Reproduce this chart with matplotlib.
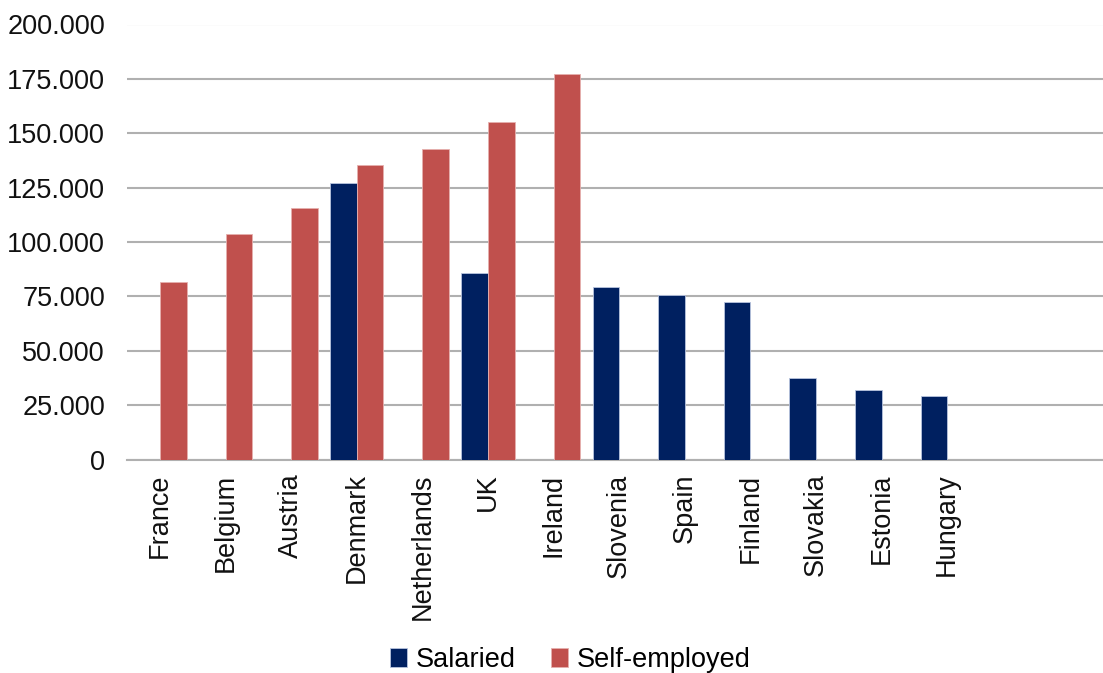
import matplotlib
matplotlib.use("Agg")
import matplotlib.pyplot as plt
import numpy as np
from matplotlib.ticker import FuncFormatter, MultipleLocator

categories = ["France", "Belgium", "Austria", "Denmark", "Netherlands", "UK", "Ireland",
              "Slovenia", "Spain", "Finland", "Slovakia", "Estonia", "Hungary"]
salaried = [np.nan, np.nan, np.nan, 127000, np.nan, 85600, np.nan,
            79200, 75800, 72500, 37300, 32000, 29000]
self_employed = [81500, 103800, 115800, 135300, 142900, 155400, 177200,
                 np.nan, np.nan, np.nan, np.nan, np.nan, np.nan]
series_names = ["Salaried", "Self-employed"]

plt.rcParams['font.family'] = ['Liberation Sans', 'DejaVu Sans']

fig = plt.figure(figsize=(11.03, 6.73), dpi=100)
ax = fig.add_axes([127.2 / 1103, 1 - 459.5 / 673, 1 - 127.2 / 1103, (459.5 - 24.5) / 673])

x = np.arange(len(categories))
w = 0.404
navy = "#002060"
red = "#C0504D"
ax.bar(x - w / 2, salaried, width=w, color=navy, edgecolor="#B8C4DE", linewidth=0.6,
       label=series_names[0], zorder=3)
ax.bar(x + w / 2, self_employed, width=w, color=red, edgecolor="#E6B0AE", linewidth=0.6,
       label=series_names[1], zorder=3)

ax.set_ylim(0, 200000)
ax.set_xlim(-0.5, -0.5 + (1103 - 127.2) / 65.6)
ax.yaxis.set_major_locator(MultipleLocator(25000))
ax.yaxis.set_major_formatter(FuncFormatter(lambda v, p: "0" if v == 0 else f"{int(v):,}".replace(",", ".")))
ax.grid(axis="y", color="#B0B0B0", linewidth=1.5, zorder=0)
ax.set_axisbelow(True)
for s in ["top", "right", "left"]:
    ax.spines[s].set_visible(False)
ax.spines["bottom"].set_color("#B0B0B0")
ax.spines["bottom"].set_linewidth(1.5)

fs = 19.5
ax.set_xticks(x)
ax.set_xticklabels(categories, rotation=90, fontsize=fs, color="#111111")
ax.tick_params(axis="x", length=0, pad=10)
ax.tick_params(axis="y", length=0, pad=16, labelsize=fs, labelcolor="#111111")

fig.legend(loc="center", bbox_to_anchor=(570 / 1103, 13 / 673), ncol=2, frameon=False,
           fontsize=fs, handlelength=0.65, handleheight=0.65, handletextpad=0.3,
           columnspacing=1.3, borderpad=0)

fig.savefig("out.png", dpi=100)
